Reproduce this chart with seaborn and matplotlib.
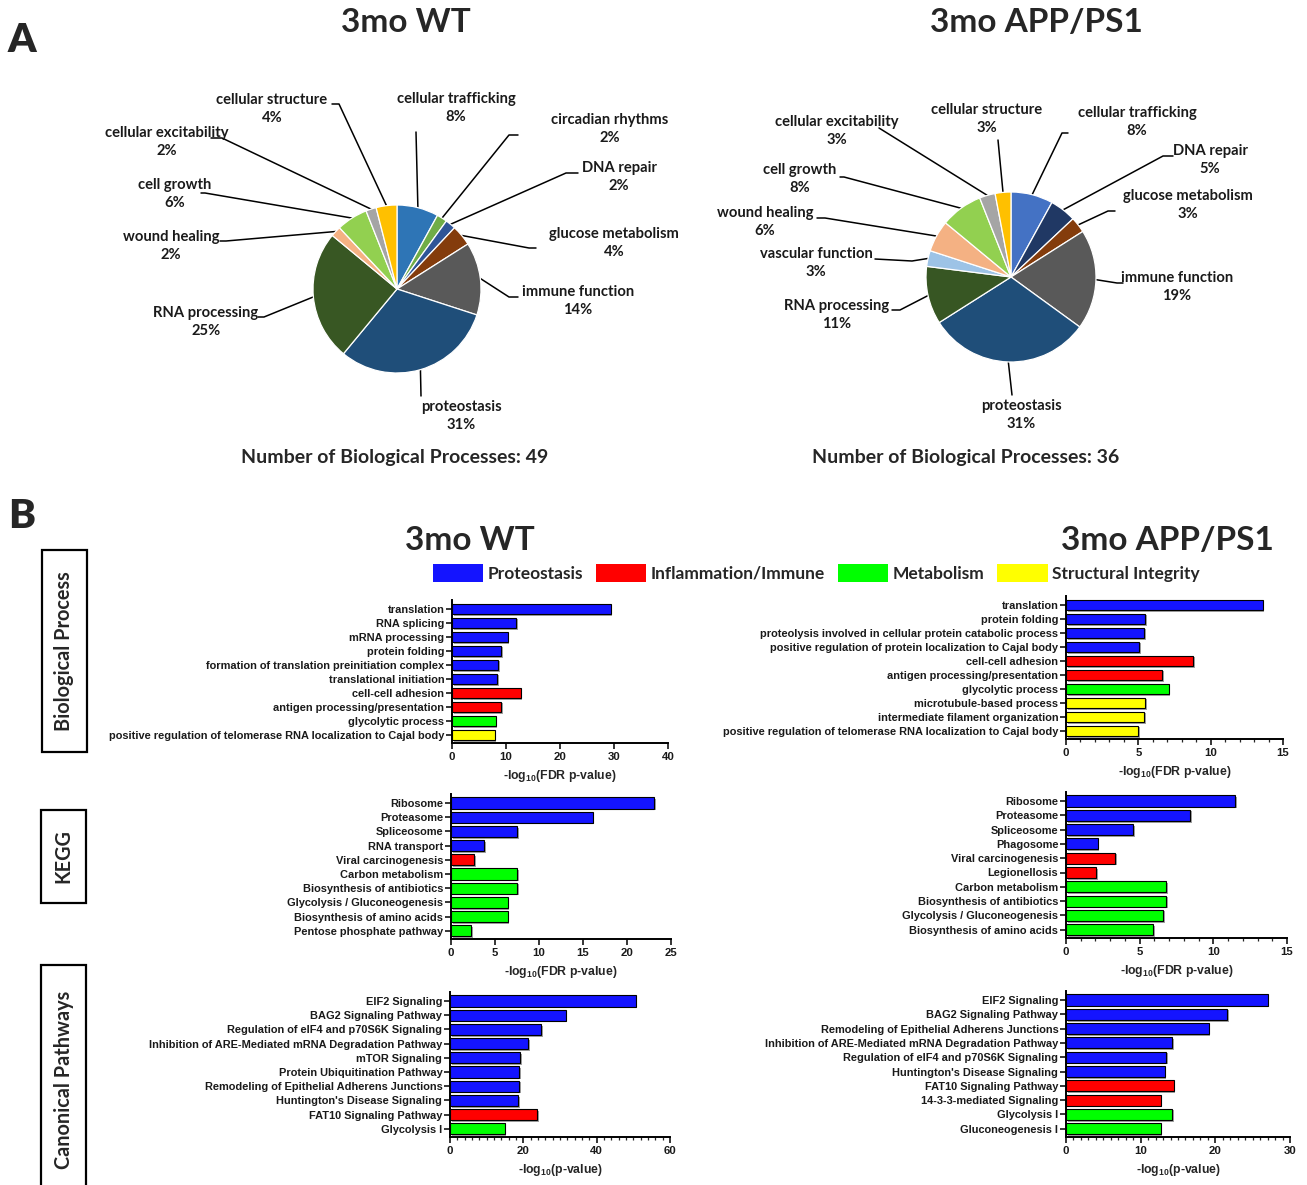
import numpy as np
import pandas as pd
import matplotlib
matplotlib.use("Agg")
import matplotlib.pyplot as plt
import matplotlib.patheffects as pe
from matplotlib.patches import Rectangle, Patch
import seaborn as sns

# ---------------- DATA ----------------
# Panel A: pie charts (percent of biological processes)
wt_pie_labels = ["cellular trafficking", "circadian rhythms", "DNA repair", "glucose metabolism",
                 "immune function", "proteostasis", "RNA processing", "wound healing",
                 "cell growth", "cellular excitability", "cellular structure"]
wt_pie_pct = [8, 2, 2, 4, 14, 31, 25, 2, 6, 2, 4]
wt_pie_colors = ["#2E75B6", "#70AD47", "#2F5597", "#843C0C", "#595959", "#1F4E79",
                 "#385723", "#F4B183", "#92D050", "#A5A5A5", "#FFC000"]
wt_n_processes = 49

app_pie_labels = ["cellular trafficking", "DNA repair", "glucose metabolism", "immune function",
                  "proteostasis", "RNA processing", "vascular function", "wound healing",
                  "cell growth", "cellular excitability", "cellular structure"]
app_pie_pct = [8, 5, 3, 19, 31, 11, 3, 6, 8, 3, 3]
app_pie_colors = ["#4472C4", "#203864", "#843C0C", "#595959", "#1F4E79", "#375623",
                  "#9DC3E6", "#F4B183", "#92D050", "#A5A5A5", "#FFC000"]
app_n_processes = 36

# Panel B: enrichment bar charts
categories = ["Proteostasis", "Inflammation/Immune", "Metabolism", "Structural Integrity"]
cat_colors = ["#1414FF", "#FF0000", "#00FF00", "#FFFF00"]

bp_wt_terms = ["translation", "RNA splicing", "mRNA processing", "protein folding",
               "formation of translation preinitiation complex", "translational initiation",
               "cell-cell adhesion", "antigen processing/presentation", "glycolytic process",
               "positive regulation of telomerase RNA localization to Cajal body"]
bp_wt_values = [29.4, 11.9, 10.3, 9.1, 8.6, 8.4, 12.7, 9.1, 8.1, 7.9]
bp_wt_cats = ["Proteostasis"] * 6 + ["Inflammation/Immune"] * 2 + ["Metabolism", "Structural Integrity"]

bp_app_terms = ["translation", "protein folding",
                "proteolysis involved in cellular protein catabolic process",
                "positive regulation of protein localization to Cajal body",
                "cell-cell adhesion", "antigen processing/presentation", "glycolytic process",
                "microtubule-based process", "intermediate filament organization",
                "positive regulation of telomerase RNA localization to Cajal body"]
bp_app_values = [13.6, 5.45, 5.4, 5.05, 8.8, 6.65, 7.1, 5.45, 5.4, 5.0]
bp_app_cats = ["Proteostasis"] * 4 + ["Inflammation/Immune"] * 2 + ["Metabolism"] + ["Structural Integrity"] * 3

kegg_wt_terms = ["Ribosome", "Proteasome", "Spliceosome", "RNA transport", "Viral carcinogenesis",
                 "Carbon metabolism", "Biosynthesis of antibiotics", "Glycolysis / Gluconeogenesis",
                 "Biosynthesis of amino acids", "Pentose phosphate pathway"]
kegg_wt_values = [23.1, 16.1, 7.5, 3.8, 2.6, 7.55, 7.55, 6.45, 6.45, 2.3]
kegg_wt_cats = ["Proteostasis"] * 4 + ["Inflammation/Immune"] + ["Metabolism"] * 5

kegg_app_terms = ["Ribosome", "Proteasome", "Spliceosome", "Phagosome", "Viral carcinogenesis",
                  "Legionellosis", "Carbon metabolism", "Biosynthesis of antibiotics",
                  "Glycolysis / Gluconeogenesis", "Biosynthesis of amino acids"]
kegg_app_values = [11.5, 8.45, 4.55, 2.15, 3.35, 2.05, 6.8, 6.8, 6.6, 5.9]
kegg_app_cats = ["Proteostasis"] * 4 + ["Inflammation/Immune"] * 2 + ["Metabolism"] * 4

cp_wt_terms = ["EIF2 Signaling", "BAG2 Signaling Pathway", "Regulation of eIF4 and p70S6K Signaling",
               "Inhibition of ARE-Mediated mRNA Degradation Pathway", "mTOR Signaling",
               "Protein Ubiquitination Pathway", "Remodeling of Epithelial Adherens Junctions",
               "Huntington's Disease Signaling", "FAT10 Signaling Pathway", "Glycolysis I"]
cp_wt_values = [50.6, 31.5, 24.8, 21.4, 19.1, 18.9, 18.8, 18.5, 23.8, 14.9]
cp_wt_cats = ["Proteostasis"] * 8 + ["Inflammation/Immune", "Metabolism"]

cp_app_terms = ["EIF2 Signaling", "BAG2 Signaling Pathway", "Remodeling of Epithelial Adherens Junctions",
                "Inhibition of ARE-Mediated mRNA Degradation Pathway",
                "Regulation of eIF4 and p70S6K Signaling", "Huntington's Disease Signaling",
                "FAT10 Signaling Pathway", "14-3-3-mediated Signaling", "Glycolysis I",
                "Gluconeogenesis I"]
cp_app_values = [27.0, 21.6, 19.1, 14.2, 13.4, 13.2, 14.4, 12.7, 14.2, 12.7]
cp_app_cats = ["Proteostasis"] * 6 + ["Inflammation/Immune"] * 2 + ["Metabolism"] * 2

# ---------------- STYLE ----------------
sns.set_style("ticks")
plt.rcParams["font.family"] = ["Liberation Sans", "DejaVu Sans"]
plt.rcParams["font.weight"] = "bold"
plt.rcParams["mathtext.fontset"] = "custom"
plt.rcParams["mathtext.rm"] = "Liberation Sans:bold"
plt.rcParams["mathtext.it"] = "Liberation Sans:bold"
plt.rcParams["mathtext.bf"] = "Liberation Sans:bold"
CAL = ["Lato", "DejaVu Sans"]
ARIAL = ["Liberation Sans", "DejaVu Sans"]

W, H = 1307, 1185
fig = plt.figure(figsize=(W / 100, H / 100), dpi=100)
fig.patch.set_facecolor("white")


def fx(x):
    return x / W


def fy(y):
    return 1 - y / H


# ---------------- PANEL A ----------------
wt_text_pos = {
    "cellular structure": (272, 109), "cellular trafficking": (456, 108),
    "circadian rhythms": (610, 129), "DNA repair": (619, 177),
    "glucose metabolism": (614, 243), "immune function": (578, 301),
    "proteostasis": (461, 416), "RNA processing": (206, 322),
    "wound healing": (171, 246), "cell growth": (175, 194),
    "cellular excitability": (167, 142),
}
wt_leaders = {
    "cellular trafficking": [(416, 132)],
    "circadian rhythms": [(509, 135), (518, 135)],
    "DNA repair": [(566, 173), (578, 173)],
    "glucose metabolism": [(529, 248), (536, 248)],
    "immune function": [(509, 297), (518, 297)],
    "proteostasis": [(421, 396)],
    "RNA processing": [(264, 317), (258, 317)],
    "wound healing": [(226, 241), (220, 241)],
    "cell growth": [(205, 193), (201, 193)],
    "cellular excitability": [(222, 138), (211, 138)],
    "cellular structure": [(339, 104), (332, 104)],
}
app_text_pos = {
    "cellular structure": (987, 119), "cellular trafficking": (1137, 122),
    "DNA repair": (1210, 160), "glucose metabolism": (1188, 205),
    "immune function": (1177, 287), "proteostasis": (1021, 415),
    "RNA processing": (837, 315), "vascular function": (816, 263),
    "wound healing": (765, 222), "cell growth": (800, 179),
    "cellular excitability": (837, 131),
}
app_leaders = {
    "cellular structure": [(998, 140)],
    "cellular trafficking": [(1062, 133), (1068, 133)],
    "DNA repair": [(1163, 156), (1173, 156)],
    "glucose metabolism": [(1108, 211), (1115, 211)],
    "immune function": [(1117, 283), (1123, 283)],
    "proteostasis": [(1012, 395)],
    "RNA processing": [(900, 310), (892, 310)],
    "vascular function": [(912, 261), (875, 259)],
    "wound healing": [(825, 218), (817, 218)],
    "cell growth": [(844, 177), (840, 177)],
    "cellular excitability": [(879, 128)],
}


def draw_pie(rect, center, r, pcts, colors, labels, text_pos, leaders):
    x0, y0, x1, y1 = rect
    ax = fig.add_axes([fx(x0), fy(y1), (x1 - x0) / W, (y1 - y0) / H])
    cx, cy = center

    def d(p):
        return ((p[0] - cx) / r, (cy - p[1]) / r)

    wedges, _ = ax.pie(pcts, colors=colors, startangle=90, counterclock=False, radius=1,
                       wedgeprops=dict(edgecolor="white", linewidth=0.9))
    ax.set_aspect("auto")
    ax.set_xlim((x0 - cx) / r, (x1 - cx) / r)
    ax.set_ylim((cy - y1) / r, (cy - y0) / r)
    ax.axis("off")
    for w, lab, pct in zip(wedges, labels, pcts):
        ang = np.deg2rad((w.theta1 + w.theta2) / 2)
        pts = [(np.cos(ang), np.sin(ang))] + [d(p) for p in leaders[lab]]
        xs, ys = zip(*pts)
        ax.plot(xs, ys, color="black", lw=1.1, zorder=0)
        tx, ty = d(text_pos[lab])
        ax.text(tx, ty, f"{lab}\n{pct}%", ha="center", va="center", family=CAL,
                fontweight="bold", fontsize=10.6, linespacing=1.45, color="#1a1a1a")
    return ax


draw_pie((90, 70, 700, 440), (397, 289), 84, wt_pie_pct, wt_pie_colors, wt_pie_labels,
         wt_text_pos, wt_leaders)
draw_pie((700, 70, 1300, 440), (1011, 277), 85, app_pie_pct, app_pie_colors, app_pie_labels,
         app_text_pos, app_leaders)

fig.text(fx(22), fy(40), "A", family=CAL, fontweight="heavy", fontsize=29, ha="center", va="center")
fig.text(fx(406), fy(22), "3mo WT", family=CAL, fontweight="bold", fontsize=24, ha="center", va="center")
fig.text(fx(1036), fy(22), "3mo APP/PS1", family=CAL, fontweight="bold", fontsize=24, ha="center", va="center")
fig.text(fx(395), fy(458), f"Number of Biological Processes: {wt_n_processes}", family=CAL,
         fontweight="bold", fontsize=14, ha="center", va="center")
fig.text(fx(966), fy(458), f"Number of Biological Processes: {app_n_processes}", family=CAL,
         fontweight="bold", fontsize=14, ha="center", va="center")

# ---------------- PANEL B ----------------
fig.text(fx(22), fy(517), "B", family=CAL, fontweight="heavy", fontsize=29, ha="center", va="center")
fig.text(fx(470), fy(540), "3mo WT", family=CAL, fontweight="bold", fontsize=24, ha="center", va="center")
fig.text(fx(1167), fy(540), "3mo APP/PS1", family=CAL, fontweight="bold", fontsize=24, ha="center", va="center")

palette = dict(zip(categories, cat_colors))
handles = [Patch(facecolor=c, edgecolor="none", label=l) for l, c in zip(categories, cat_colors)]
fig.legend(handles=handles, loc="center", bbox_to_anchor=(fx(816), fy(573)), ncol=4, frameon=False,
           handlelength=2.9, handleheight=1.2, handletextpad=0.25, columnspacing=0.75,
           borderaxespad=0, prop=dict(family=CAL, weight="bold", size=12.5))

# row-label boxes
for (bx0, by0, bx1, by1), txt, cyb in [((42, 550, 87, 752), "Biological Process", 651),
                                        ((41, 810, 86, 903), "KEGG", 856),
                                        ((41, 965, 86, 1200), "Canonical Pathways", 1080)]:
    fig.add_artist(Rectangle((fx(bx0), fy(by1)), (bx1 - bx0) / W, (by1 - by0) / H,
                             transform=fig.transFigure, fill=False, edgecolor="black", lw=1.6))
    fig.text(fx((bx0 + bx1) / 2), fy(cyb), txt, rotation=90, family=CAL, fontweight="bold",
             fontsize=14.3, ha="center", va="center")

bar_specs = [
    # (x_left, x_right, y_first_bar, spacing, terms, values, cats, xmax, major, minor, xlabel)
    (452, 668, 609, 14.0, bp_wt_terms, bp_wt_values, bp_wt_cats, 40, 10, None, "FDR p-value"),
    (1066, 1283, 605, 14.0, bp_app_terms, bp_app_values, bp_app_cats, 15, 5, 1, "FDR p-value"),
    (451, 671, 803, 14.2, kegg_wt_terms, kegg_wt_values, kegg_wt_cats, 25, 5, None, "FDR p-value"),
    (1066, 1287, 801, 14.3, kegg_app_terms, kegg_app_values, kegg_app_cats, 15, 5, 1, "FDR p-value"),
    (450, 670, 1001, 14.2, cp_wt_terms, cp_wt_values, cp_wt_cats, 60, 20, 2, "p-value"),
    (1066, 1290, 1000, 14.3, cp_app_terms, cp_app_values, cp_app_cats, 30, 10, 1, "p-value"),
]

TOP, BOT = -0.65, 9.6
for (xl, xr, yf, sp, terms, vals, cats, xmax, major, minor, xlab) in bar_specs:
    ytop = yf + TOP * sp
    ybot = yf + BOT * sp
    ax = fig.add_axes([fx(xl), fy(ybot), (xr - xl) / W, (ybot - ytop) / H])
    df = pd.DataFrame({"term": terms, "value": vals, "cat": cats})
    sns.barplot(data=df, x="value", y="term", hue="cat", palette=palette, dodge=False,
                legend=False, orient="h", width=0.78, edgecolor="black", linewidth=0.8, ax=ax,
                order=terms, hue_order=categories, saturation=1)
    for p in ax.patches:
        p.set_path_effects([pe.SimplePatchShadow(offset=(1.2, -1.2), shadow_rgbFace="#7a7a7a", alpha=0.7),
                            pe.Normal()])
    ax.set_ylim(BOT, TOP)
    ax.set_xlim(0, xmax)
    ax.set_xticks(np.arange(0, xmax + 0.01, major))
    if minor:
        ax.set_xticks(np.arange(0, xmax + 0.01, minor), minor=True)
    sns.despine(ax=ax)
    for s in ("left", "bottom"):
        ax.spines[s].set_linewidth(1.4)
        ax.spines[s].set_color("black")
    ax.tick_params(axis="y", length=4, width=1.1, pad=1.5, labelsize=7.9, colors="black")
    ax.tick_params(axis="x", which="major", length=4, width=1.1, pad=2.5, labelsize=8.2, colors="black")
    ax.tick_params(axis="x", which="minor", length=2.5, width=0.9)
    for lbl in ax.get_yticklabels() + ax.get_xticklabels():
        lbl.set_fontfamily(ARIAL)
        lbl.set_fontweight("bold")
        lbl.set_color("#1a1a1a")
    ax.set_ylabel("")
    ax.set_xlabel(r"-log$_{10}$(" + xlab + ")", fontsize=8.8, fontweight="bold", labelpad=4,
                  family=ARIAL)
    ax.set_facecolor("none")

fig.savefig("out.png", dpi=100, facecolor="white")
